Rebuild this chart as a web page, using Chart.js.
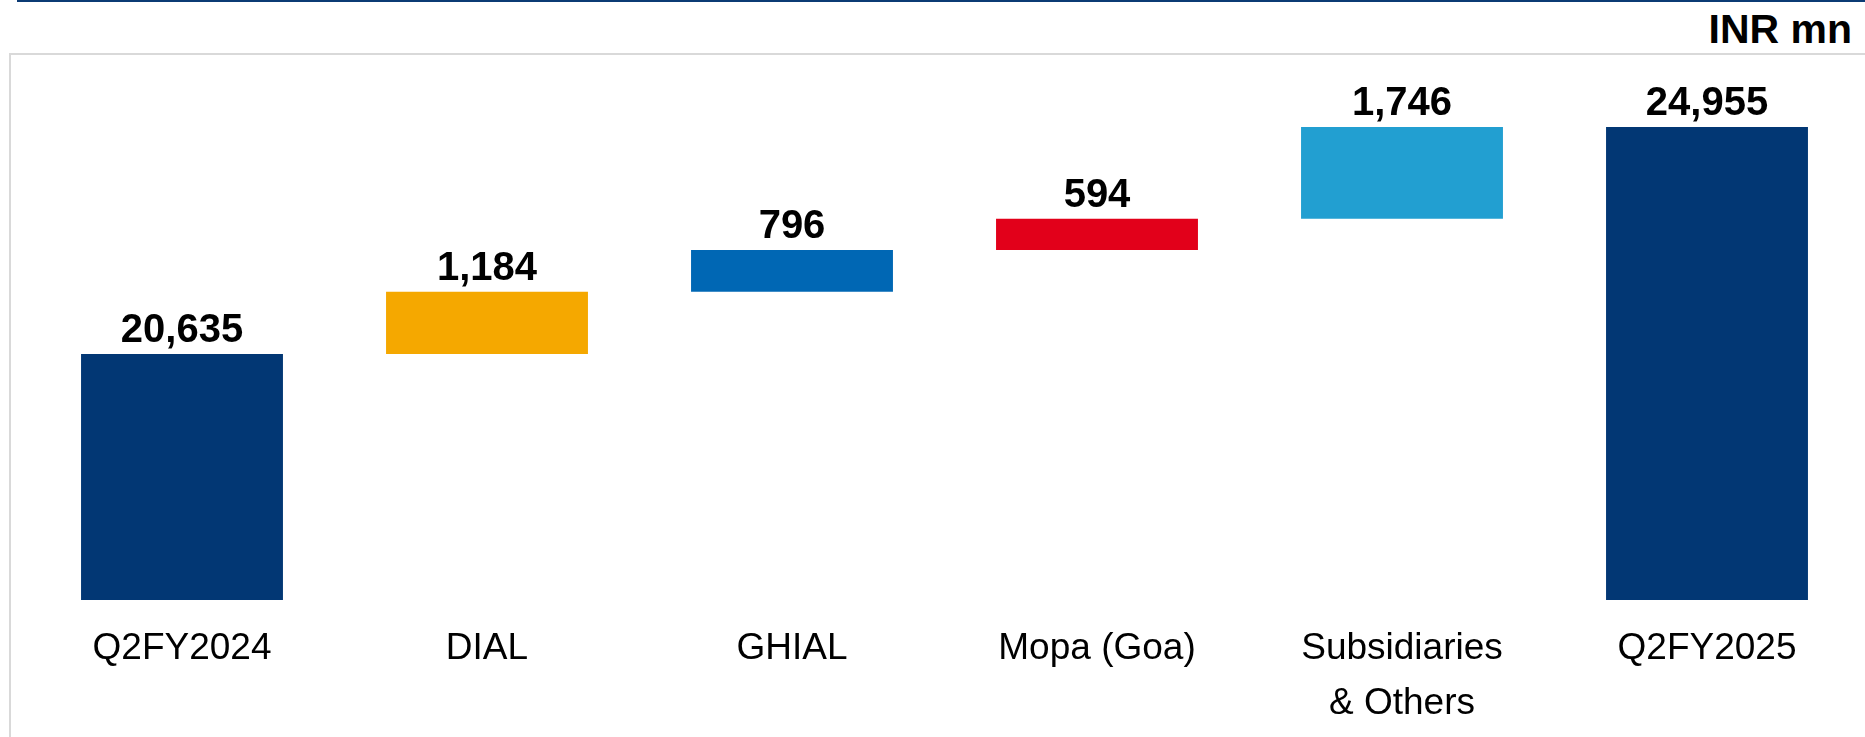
<!DOCTYPE html>
<html>
<head>
<meta charset="utf-8">
<script src="https://cdn.jsdelivr.net/npm/chart.js"></script>
<style>
  html, body { margin: 0; padding: 0; background: #fff; }
  body { width: 1865px; height: 737px; position: relative; overflow: hidden; font-family: "Liberation Sans", Arial, sans-serif; }
  .top-rule { position: absolute; left: 17px; right: 0; top: 0; height: 2px; background: #0b3b74; }
  .frame { position: absolute; left: 9px; top: 53px; right: -2px; bottom: -2px; border-top: 2px solid #d9d9d9; border-left: 2px solid #d9d9d9; }
  .unit { position: absolute; right: 13px; top: 6px; font-weight: bold; font-size: 41px; color: #000; }
  #wrap { position: absolute; left: 0; top: 0; width: 1865px; height: 737px; }
</style>
</head>
<body>
<div class="top-rule"></div>
<div class="frame"></div>
<div class="unit">INR mn</div>
<div id="wrap"><canvas id="bridge"></canvas></div>
<script>
// chart data
const categories = ['Q2FY2024', 'DIAL', 'GHIAL', 'Mopa (Goa)', ['Subsidiaries', '& Others'], 'Q2FY2025'];
const values = [20635, 1184, 796, 594, 1746, 24955];
const isTotal = [true, false, false, false, false, true];
const barColors = ['#023774', '#f5a800', '#0067b4', '#e2001a', '#229fd1', '#023774'];
const yMin = 15950;
const yMax = 26250;

// build floating [start, end] pairs for the waterfall
const ranges = [];
let running = 0;
values.forEach((v, i) => {
    if (isTotal[i]) {
        ranges.push([yMin, v]);
        running = v;
    } else {
        ranges.push([running, running + v]);
        running += v;
    }
});

// value labels above each bar
const valueLabels = {
    id: 'valueLabels',
    afterDatasetsDraw(chart) {
        const ctx = chart.ctx;
        const meta = chart.getDatasetMeta(0);
        ctx.save();
        ctx.font = 'bold 40px "Liberation Sans", Arial, sans-serif';
        ctx.fillStyle = '#000';
        ctx.textAlign = 'center';
        ctx.textBaseline = 'alphabetic';
        meta.data.forEach((bar, i) => {
            const top = Math.min(bar.y, bar.base);
            ctx.fillText(values[i].toLocaleString('en-US'), bar.x, top - 12);
        });
        ctx.restore();
    }
};

new Chart(document.getElementById('bridge'), {
    type: 'bar',
    data: {
        labels: categories,
        datasets: [{
            data: ranges,
            backgroundColor: barColors,
            borderWidth: 0,
            barPercentage: 0.662,
            categoryPercentage: 1
        }]
    },
    options: {
        responsive: true,
        maintainAspectRatio: false,
        animation: false,
        layout: { padding: { left: 29.5, right: 5.5, top: 59, bottom: 0 } },
        plugins: { legend: { display: false }, tooltip: { enabled: false } },
        scales: {
            x: {
                grid: { display: false, drawTicks: false },
                border: { display: false },
                ticks: {
                    color: '#000',
                    padding: 21,
                    maxRotation: 0,
                    autoSkip: false,
                    font: { family: '"Liberation Sans", Arial, sans-serif', size: 37, lineHeight: 1.5 }
                },
                afterFit(scale) { scale.height = 137; }
            },
            y: {
                display: false,
                min: yMin,
                max: yMax
            }
        }
    },
    plugins: [valueLabels]
});
</script>
</body>
</html>
